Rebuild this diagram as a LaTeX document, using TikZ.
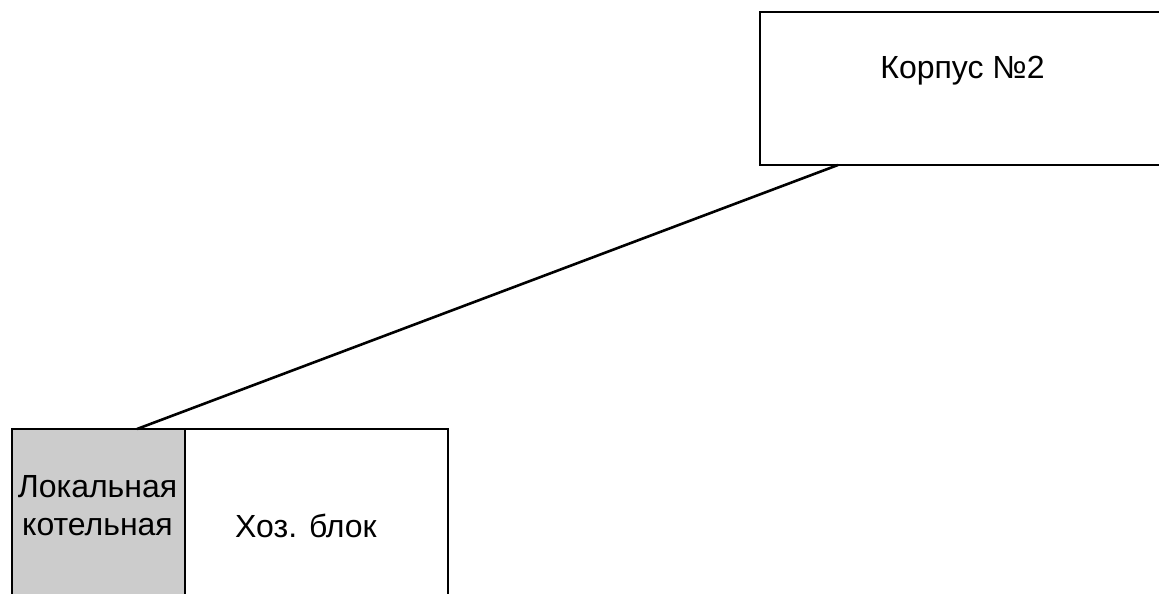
\documentclass[tikz,border=0pt]{standalone}
\usepackage{fontspec}
\setmainfont{Liberation Sans}
\begin{document}
\begin{tikzpicture}[x=1pt,y=-1pt,
  wallbox/.style={draw=black,line width=2.6pt},
  lbl/.style={font=\fontsize{32}{37.5}\selectfont,align=center,inner sep=0pt,text=black}]
\useasboundingbox (0,0) rectangle (1159,594);
\path[wallbox,fill=white] (760,12) rectangle (1175,165);
\path[wallbox,fill=white] (185,429) rectangle (448,620);
\path[wallbox,fill=black!20] (12,429) rectangle (185,620);
\coordinate (a) at (838,165);
\coordinate (b) at (137,429);
\draw[line width=2.6pt] (a) -- (b);
\node[lbl] (k2) at (962.5,71) {Корпус №2};
\node[lbl] (kot) at (97.5,505.5) {Локальная\\котельная};
\node[lbl] (hoz) at (306,526) {Хоз. блок};
\end{tikzpicture}
\end{document}
